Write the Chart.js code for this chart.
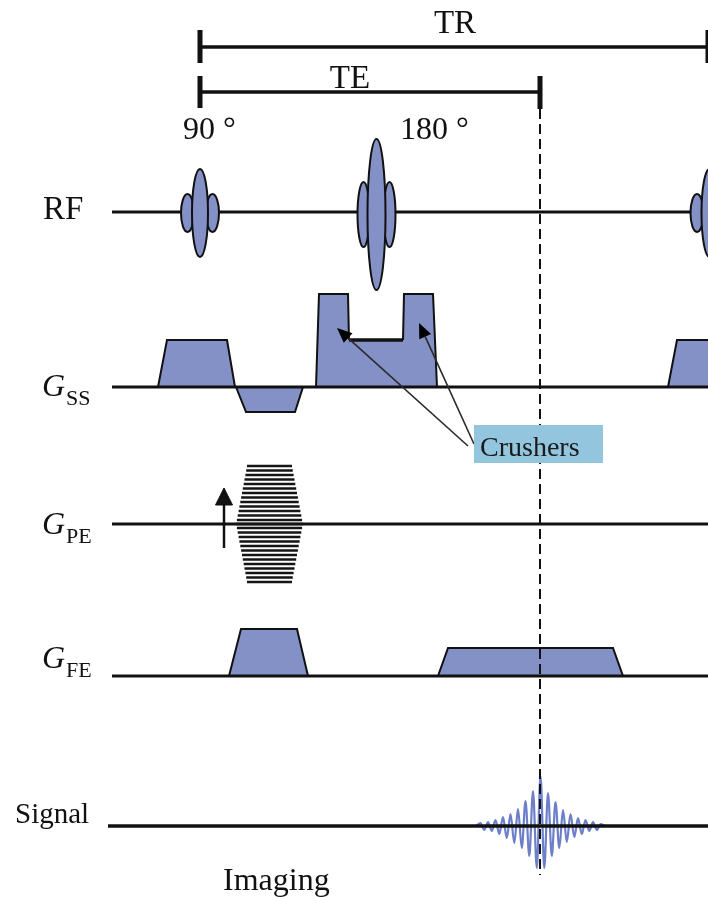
<!DOCTYPE html>
<html><head><meta charset="utf-8">
<script src="https://cdn.jsdelivr.net/npm/chart.js@4.4.1/dist/chart.umd.min.js"></script>
<style>html,body{margin:0;padding:0;background:#fff}#wrap{width:708px;height:897px;position:relative}</style>
</head><body><div id="wrap"><canvas id="c"></canvas></div>
<script>
// ---- timing (arbitrary time units, 0 = centre of the 90° pulse) ----
const channels = ['RF', 'G_SS', 'G_PE', 'G_FE', 'Signal'];
const channelLevels = [685, 510, 373, 221, 71];
const sequenceStart = -88;
const TE = 340;
const TR = 508;
const timingLevels = [850, 805]; // TR bar, TE bar

// ---- RF pulses ----
const rfPulseLabels = ['90 °', '180 °', ''];
const rfCenters = [0, 176.5, 509.5];
const rfCenterShift = [-1, -2.5, -1];
const rfMainHalfHeight = [44, 75.5, 44];
const rfMainHalfWidth = [8, 9, 8];
const rfSideOffset = [12.5, 13, 12.5];
const rfSideHalfHeight = [19, 32.5, 19];
const rfSideHalfWidth = [6.5, 6, 6.5];

// ---- slice-select gradient ----
const gssExciteT = [-42, -33, 27, 35];
const gssExciteA = [0, 47, 47, 0];
const gssRewindT = [36, 46, 95, 103];
const gssRewindA = [0, -25, -25, 0];
const gssRefocusT = [116, 119, 148, 149, 203, 204, 233, 237];
const gssRefocusA = [0, 93, 93, 47, 47, 93, 93, 0];
const gssNextT = [468, 477, 530];
const gssNextA = [0, 47, 47];

// ---- phase-encode table ----
const gpeTableCenter = 69.5;
const gpeSteps = [58, 53.5, 49, 44.5, 40, 35.5, 31, 26.5, 22, 17.5, 13, 8.5, 4, 0, -4, -8.5, -13, -17.5, -22, -26.5, -31, -35.5, -40, -44.5, -49, -53.5, -58];
const gpeHalfWidths = [22.5, 23.3, 24.1, 25, 25.8, 26.7, 27.5, 28.4, 29.2, 30.1, 30.9, 31.8, 32.6, 33.5, 32.6, 31.8, 30.9, 30.1, 29.2, 28.4, 27.5, 26.7, 25.8, 25, 24.1, 23.3, 22.5];
const gpeArrowTime = 24;
const gpeArrowFrom = -24;
const gpeArrowTo = 36;

// ---- frequency-encode gradient ----
const gfeDephaseT = [29, 41, 97, 108];
const gfeDephaseA = [0, 47, 47, 0];
const gfeReadT = [238, 248, 413, 423];
const gfeReadA = [0, 28, 28, 0];

// ---- echo signal (extrema) ----
const signalT = [276, 280.5, 284.3, 288, 291.8, 295.5, 299.3, 303, 306.8, 310.5, 314.3, 318, 321.8, 325.5, 329.3, 333, 336.8, 340.5, 344.3, 348, 351.8, 355.5, 359.3, 363, 366.8, 370.5, 374.3, 378, 381.8, 385.5, 389.3, 393, 396.8, 400.5, 405];
const signalA = [0, 3, -4, 4, -5, 6, -8, 9, -12, 12, -17, 17, -22, 25, -30, 35, -42, 50, -42, 33, -30, 24, -22, 16, -16, 12, -11, 8, -8, 6, -5, 4, -4, 2, 0];

// ---- crusher annotation ----
const crusherTips = [[137, 569], [219, 574]];
const crusherTails = [[268, 451], [274, 453]];

// ================= build datasets =================
const FILL = '#8391c6';
const INK = '#111';
const seq = [];
const lvl = i => channelLevels[i];
function shape(T, A, base, extra) {
  seq.push(Object.assign({
    data: T.map((t, i) => ({x: t, y: base + A[i]})),
    borderColor: INK, borderWidth: 2, backgroundColor: FILL,
    fill: {value: base}, pointRadius: 0, tension: 0
  }, extra || {}));
}
function line(pts, w, extra) {
  seq.push(Object.assign({
    data: pts.map(p => ({x: p[0], y: p[1]})),
    borderColor: INK, borderWidth: w, fill: false, pointRadius: 0, tension: 0
  }, extra || {}));
}
// gradient lobes
shape(gssExciteT, gssExciteA, lvl(1));
shape(gssRewindT, gssRewindA, lvl(1));
shape(gssRefocusT, gssRefocusA, lvl(1), {segment: {borderWidth: c => c.p0DataIndex === 3 ? 3.5 : 2}});
shape(gssNextT, gssNextA, lvl(1));
shape(gfeDephaseT, gfeDephaseA, lvl(3));
shape(gfeReadT, gfeReadA, lvl(3));
// signal
seq.push({
  data: signalT.map((t, i) => ({x: t, y: lvl(4) + signalA[i]})),
  borderColor: '#6d7fc8', borderWidth: 2.2, fill: false, pointRadius: 0,
  cubicInterpolationMode: 'monotone'
});
// baselines
[0, 1, 2, 3].forEach(i => line([[sequenceStart, lvl(i)], [TR, lvl(i)]], 3));
line([[sequenceStart - 4, lvl(4)], [TR, lvl(4)]], 3.5);
// phase encode table
const pe = [];
gpeSteps.forEach((s, i) => {
  pe.push({x: gpeTableCenter - gpeHalfWidths[i], y: lvl(2) + s});
  pe.push({x: gpeTableCenter + gpeHalfWidths[i], y: lvl(2) + s});
  pe.push({x: gpeTableCenter, y: null});
});
seq.push({data: pe, borderColor: '#151515', borderWidth: 2.4, fill: false, pointRadius: 0, spanGaps: false});
// phase encode arrow
line([[gpeArrowTime, lvl(2) + gpeArrowFrom], [gpeArrowTime, lvl(2) + gpeArrowTo - 14]], 2.5);
seq.push({
  data: [[gpeArrowTime - 8.5, lvl(2) + gpeArrowTo - 17], [gpeArrowTime, lvl(2) + gpeArrowTo], [gpeArrowTime + 8.5, lvl(2) + gpeArrowTo - 17], [gpeArrowTime - 8.5, lvl(2) + gpeArrowTo - 17]].map(p => ({x: p[0], y: p[1]})),
  borderColor: INK, borderWidth: 1, backgroundColor: INK, fill: 'shape', pointRadius: 0, tension: 0
});
// TR / TE bars
line([[0, timingLevels[0]], [TR, timingLevels[0]]], 3.5);
line([[0, timingLevels[0] + 17], [0, timingLevels[0] - 16]], 5);
line([[TR - 1, timingLevels[0] + 17], [TR - 1, timingLevels[0] - 16]], 3);
line([[0, timingLevels[1]], [TE, timingLevels[1]]], 3.5);
line([[0, timingLevels[1] + 16], [0, timingLevels[1] - 16]], 5);
line([[TE, timingLevels[1] + 16], [TE, timingLevels[1] - 17]], 5);
// TE dashed marker
line([[TE, timingLevels[1] - 17], [TE, 22]], 2, {borderDash: [10, 5]});

const N = seq.length;
seq.forEach((d, i) => { d.order = N - i; });

// ================= annotation plugin =================
const overlay = {
  id: 'overlay',
  afterDatasetsDraw(chart) {
    const c = chart.ctx, X = chart.scales.x, Y = chart.scales.y;
    const px = t => X.getPixelForValue(t), py = v => Y.getPixelForValue(v);
    const ppx = X.getPixelForValue(1) - X.getPixelForValue(0);
    const ppy = Y.getPixelForValue(0) - Y.getPixelForValue(1);
    c.save();
    // RF pulses
    function ell(t, v, hw, hh) {
      c.beginPath();
      c.ellipse(px(t), py(v), hw * ppx, hh * ppy, 0, 0, Math.PI * 2);
      c.fillStyle = FILL; c.fill();
      c.lineWidth = 2; c.strokeStyle = INK; c.stroke();
    }
    rfCenters.forEach((t, i) => {
      const v = lvl(0) + rfCenterShift[i];
      ell(t - rfSideOffset[i], v, rfSideHalfWidth[i], rfSideHalfHeight[i]);
      ell(t + rfSideOffset[i], v, rfSideHalfWidth[i], rfSideHalfHeight[i]);
      ell(t, v, rfMainHalfWidth[i], rfMainHalfHeight[i]);
    });
    // crusher arrows
    c.strokeStyle = '#2a2a2a'; c.fillStyle = '#000'; c.lineWidth = 1.6;
    crusherTips.forEach((tip, i) => {
      const x1 = px(crusherTails[i][0]), y1 = py(crusherTails[i][1]);
      const x2 = px(tip[0]), y2 = py(tip[1]);
      const a = Math.atan2(y2 - y1, x2 - x1), L = 15, W = 6.5;
      const bx = x2 - L * Math.cos(a), by = y2 - L * Math.sin(a);
      c.beginPath(); c.moveTo(x1, y1); c.lineTo(bx, by); c.stroke();
      c.beginPath(); c.moveTo(x2, y2);
      c.lineTo(bx + W * Math.sin(a), by - W * Math.cos(a));
      c.lineTo(bx - W * Math.sin(a), by + W * Math.cos(a));
      c.closePath(); c.fill();
    });
    // Crushers label
    c.fillStyle = '#93c5de';
    c.fillRect(474, 425, 129, 38);
    c.fillStyle = '#1a1a1a';
    c.font = '28px "Liberation Serif"';
    c.textBaseline = 'alphabetic'; c.textAlign = 'left';
    c.fillText('Crushers', 480, 456);
    // texts
    c.fillStyle = '#111';
    c.font = '33px "Liberation Serif"';
    c.textAlign = 'center';
    c.fillText('TR', 455, 33);
    c.fillText('TE', 350, 88);
    c.textAlign = 'left';
    c.font = '32px "Liberation Serif"';
    c.fillText(rfPulseLabels[0], 183, 139);
    c.fillText(rfPulseLabels[1], 400, 139);
    c.font = '33px "Liberation Serif"';
    c.fillText('RF', 43, 219);
    const gl = [[1, 'SS', 396, 405], [2, 'PE', 534, 543], [3, 'FE', 668, 677]];
    gl.forEach(g => {
      c.font = 'italic 32px "Liberation Serif"';
      c.fillText('G', 42, g[2]);
      const w = c.measureText('G').width;
      c.font = '22px "Liberation Serif"';
      c.fillText(g[1], 42 + w + 1, g[3]);
    });
    c.font = '29px "Liberation Serif"';
    c.fillText('Signal', 15, 823);
    c.font = '32px "Liberation Serif"';
    c.fillText('Imaging', 223, 890);
    c.restore();
  }
};

new Chart(document.getElementById('c'), {
  type: 'line',
  data: {datasets: seq},
  options: {
    responsive: true, maintainAspectRatio: false, animation: false,
    layout: {padding: 0},
    plugins: {legend: {display: false}, tooltip: {enabled: false}},
    scales: {
      x: {type: 'linear', min: -200, max: 508, display: false},
      y: {type: 'linear', min: 0, max: 897, display: false}
    }
  },
  plugins: [overlay]
});
</script></body></html>
